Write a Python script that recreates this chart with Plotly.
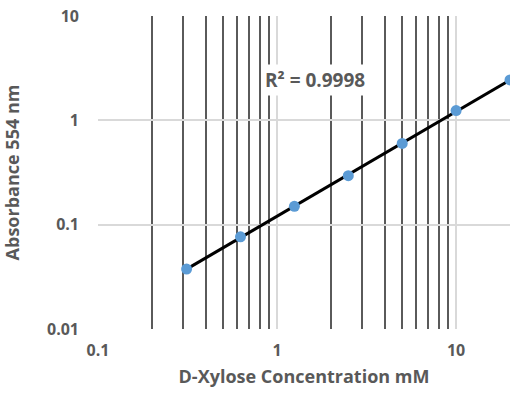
import numpy as np
import plotly.graph_objects as go

conc_mM = [0.3125, 0.625, 1.25, 2.5, 5, 10, 20]
absorbance = [0.0375, 0.0765, 0.150, 0.295, 0.60, 1.24, 2.44]
r2_label = "R² = 0.9998"
x_tick_vals = [0.1, 1, 10]
x_tick_text = ["0.1", "1", "10"]
y_tick_vals = [0.01, 0.1, 1, 10]
y_tick_text = ["0.01", "0.1", "1", "10"]
x_minor_vals = [0.2, 0.3, 0.4, 0.5, 0.6, 0.7, 0.8, 0.9, 2, 3, 4, 5, 6, 7, 8, 9]

lx = np.log10(conc_mM)
ly = np.log10(absorbance)
b, a = np.polyfit(lx, ly, 1)
fit_x = np.array([min(conc_mM), max(conc_mM)])
fit_y = 10 ** (a + b * np.log10(fit_x))

grey = "#595959"
font_fam = "Open Sans, DejaVu Sans, sans-serif"

fig = go.Figure()
fig.add_trace(go.Scatter(
    x=fit_x, y=fit_y, mode="lines",
    line=dict(color="black", width=3),
    showlegend=False))
fig.add_trace(go.Scatter(
    x=conc_mM, y=absorbance, mode="markers",
    marker=dict(color="#5b9bd5", size=11),
    cliponaxis=False, showlegend=False))

fig.add_annotation(
    x=np.log10(1.63), y=np.log10(2.44), xref="x", yref="y",
    text=r2_label, showarrow=False, bgcolor="white",
    font=dict(family=font_fam, size=19, color=grey, weight="bold"),
    borderpad=2)

fig.update_layout(
    width=510, height=393,
    margin=dict(l=98, r=0, t=16, b=64),
    plot_bgcolor="white", paper_bgcolor="white",
    font=dict(family=font_fam, color=grey, size=16),
    xaxis=dict(
        type="log", range=[-1, np.log10(20)],
        tickvals=x_tick_vals, ticktext=x_tick_text,
        showgrid=True, gridcolor="#d9d9d9", gridwidth=1.5,
        ticks="", ticklabelstandoff=10, automargin=False,
        tickfont=dict(size=16, color=grey, weight="bold"),
        minor=dict(tickvals=x_minor_vals, showgrid=True,
                   gridcolor="#5a5a5a", gridwidth=2, ticks=""),
        showline=False, zeroline=False,
        title=dict(text="D-Xylose Concentration mM", standoff=10,
                   font=dict(size=18, color=grey, weight="bold")),
    ),
    yaxis=dict(
        type="log", range=[-2, 1],
        tickvals=y_tick_vals, ticktext=y_tick_text,
        showgrid=True, gridcolor="#d9d9d9", gridwidth=1.5,
        ticks="", ticklabelstandoff=18, automargin=False,
        tickfont=dict(size=16, color=grey, weight="bold"),
        showline=False, zeroline=False,
        title=dict(text="Absorbance 554 nm", standoff=26,
                   font=dict(size=18, color=grey, weight="bold")),
    ),
)

fig.write_html("out.html", config={"displayModeBar": False},
               post_script="document.body.style.margin='0';")
